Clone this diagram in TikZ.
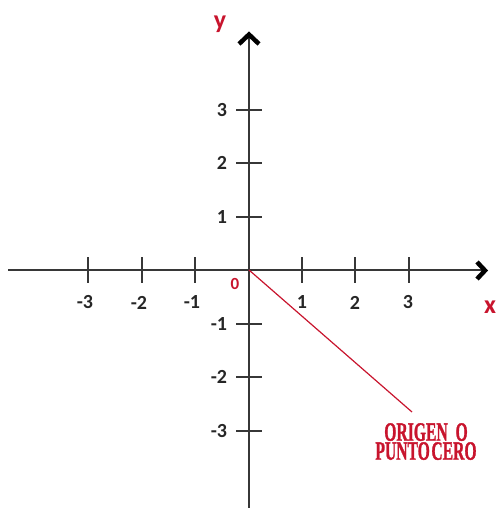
\documentclass[tikz,border=0pt]{standalone}
\usepackage{graphicx}
\usepackage{fontspec}
\setmainfont{Carlito}
\newfontfamily\labfont[BoldFeatures={FakeBold=1.5}]{Liberation Serif}
\definecolor{axred}{RGB}{200,20,45}
\definecolor{axgray}{RGB}{55,55,55}
\begin{document}
\begin{tikzpicture}[x=1pt,y=-1pt,
  axis/.style={draw=axgray,line width=2pt},
  tickmark/.style={draw=axgray,line width=2pt},
  chev/.style={draw=black,line width=4.5pt,miter limit=10},
  num/.style={font=\fontsize{20}{22}\selectfont\bfseries,text=black!85,inner sep=0pt},
  axlab/.style={font=\fontsize{26}{28}\selectfont\bfseries,text=axred,inner sep=0pt},
  origtext/.style={font=\labfont\fontsize{23}{19}\selectfont\bfseries,text=axred,inner sep=0pt,align=center}]
\useasboundingbox (0,0) rectangle (498,508);
% axes
\coordinate (O) at (249,270);
\coordinate (xl) at (8,270);
\coordinate (xr) at (485,270);
\coordinate (yt) at (249,36);
\coordinate (yb) at (249,508);
\draw[axis] (xl) -- (xr);
\draw[axis] (yb) -- (yt);
% arrow chevrons
\draw[chev] (477,262) -- (485,270.5) -- (477,279);
\draw[chev] (239,44) -- (249,34.5) -- (259,44);
% x ticks
\foreach \x in {88,142,195,302,355,409} \draw[tickmark] (\x,257) -- (\x,283);
% y ticks
\foreach \y in {110,163,217,324,377,431} \draw[tickmark] (236,\y) -- (262,\y);
% x labels
\node[num] (xm3) at (88,302.5) {\llap{-}3};
\node[num] (xm2) at (142,302.5) {\llap{-}2};
\node[num] (xm1) at (195,302.5) {\llap{-}1};
\node[num] (xp1) at (302,302.5) {1};
\node[num] (xp2) at (355,302.5) {2};
\node[num] (xp3) at (408,302.5) {3};
% y labels
\node[num] (yp3) at (222,110) {3};
\node[num] (yp2) at (222,163) {2};
\node[num] (yp1) at (222,217) {1};
\node[num] (ym1) at (222,324) {\llap{-}1};
\node[num] (ym2) at (222,377) {\llap{-}2};
\node[num] (ym3) at (222,431) {\llap{-}3};
% axis names
\node[axlab] (ylab) at (220,24) {y};
\node[axlab] (xlab) at (490,307) {x};
\node[axlab,font=\fontsize{17}{18}\selectfont\bfseries] (zero) at (235,283.5) {0};
% origin label
\coordinate (lend) at (412,412);
\draw[draw=axred,line width=1.2pt] (O) -- (lend);
\node[origtext,anchor=north] (lbl) at (426,423)
  {\scalebox{0.68}[1.15]{ORIGEN\hspace{0.5em}O}\\[0pt]\scalebox{0.68}[1.15]{PUNTO\hspace{0.1em}CERO}};
\end{tikzpicture}
\end{document}
